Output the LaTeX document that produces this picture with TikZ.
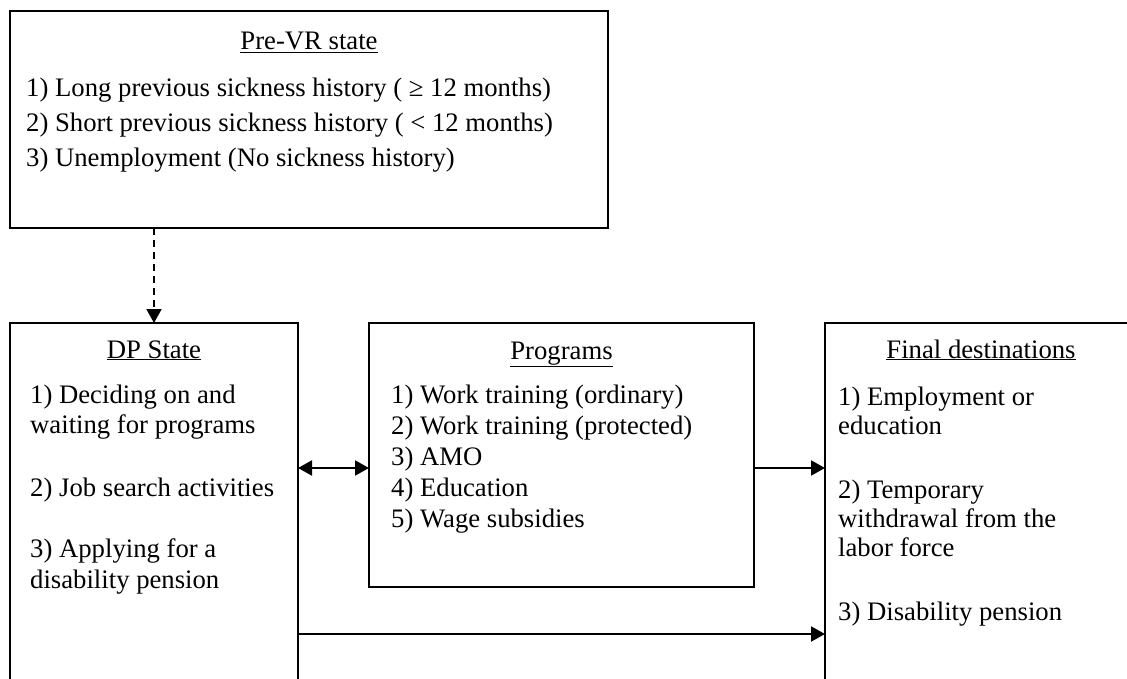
\documentclass[tikz,border=0pt]{standalone}
\usepackage{fontspec}
\setmainfont{Liberation Serif}
\usetikzlibrary{arrows.meta}
\begin{document}
\begin{tikzpicture}[x=1pt,y=-1pt,
  box/.style={draw, line width=2pt, anchor=north west, inner sep=0pt, outer sep=0pt},
  txt/.style={anchor=base west, inner sep=0pt, font=\fontsize{26.7}{30}\selectfont},
  ttl/.style={anchor=base, inner sep=0pt, font=\fontsize{26.7}{30}\selectfont},
  tip/.tip={Triangle[width=15pt,length=14pt]},
  arr/.style={line width=2pt, -tip},
  darr/.style={line width=2pt, tip-tip},
  dasharr/.style={line width=2pt, -tip, dash pattern=on 7pt off 5pt}]
\useasboundingbox (0,0) rectangle (1127,679);
\clip (0,0) rectangle (1127,679);
% boxes
\node[box, minimum width=598pt, minimum height=217pt] (pre) at (10,11) {};
\node[box, minimum width=288pt, minimum height=420pt] (dp) at (10,323) {};
\node[box, minimum width=385pt, minimum height=264pt] (prog) at (369,323) {};
\node[box, minimum width=312pt, minimum height=420pt] (fin) at (825,323) {};
% Pre-VR texts
\node[ttl] (pret) at (pre.north |- 0,50) {\underline{Pre-VR state}};
\node[txt] (p1) at (26,97) {1) Long previous sickness history ( ≥ 12 months)};
\node[txt] (p2) at (26,132) {2) Short previous sickness history ( < 12 months)};
\node[txt] (p3) at (26,167) {3) Unemployment (No sickness history)};
% DP texts
\node[ttl] (dpt) at (dp.north |- 0,358) {\underline{DP State}};
\node[txt] (d1) at (30,403) {1) Deciding on and};
\node[txt] (d2) at (30,433) {waiting for programs};
\node[txt] (d3) at (30,496) {2) Job search activities};
\node[txt] (d4) at (30,557) {3) Applying for a};
\node[txt] (d5) at (30,588) {disability pension};
% Programs texts
\node[ttl] (prt) at (prog.north |- 0,359) {\underline{Programs}};
\node[txt] (g1) at (391,403) {1) Work training (ordinary)};
\node[txt] (g2) at (391,434) {2) Work training (protected)};
\node[txt] (g3) at (391,465) {3) AMO};
\node[txt] (g4) at (391,496) {4) Education};
\node[txt] (g5) at (391,527) {5) Wage subsidies};
% Final texts
\node[ttl] (fnt) at (fin.north |- 0,358) {\underline{Final destinations}};
\node[txt] (f1) at (838,405) {1) Employment or};
\node[txt] (f2) at (838,434) {education};
\node[txt] (f3) at (838,498) {2) Temporary};
\node[txt] (f4) at (838,527) {withdrawal from the};
\node[txt] (f5) at (838,556) {labor force};
\node[txt] (f6) at (838,620) {3) Disability pension};
% connectors
\coordinate (yA) at (0,468);
\coordinate (yB) at (0,634);
\draw[dasharr] (pre.south -| dp.north) -- (dp.north);
\draw[darr] (dp.east |- yA) -- (prog.west |- yA);
\draw[arr] (prog.east |- yA) -- (fin.west |- yA);
\draw[arr] (dp.east |- yB) -- (fin.west |- yB);
\end{tikzpicture}
\end{document}
